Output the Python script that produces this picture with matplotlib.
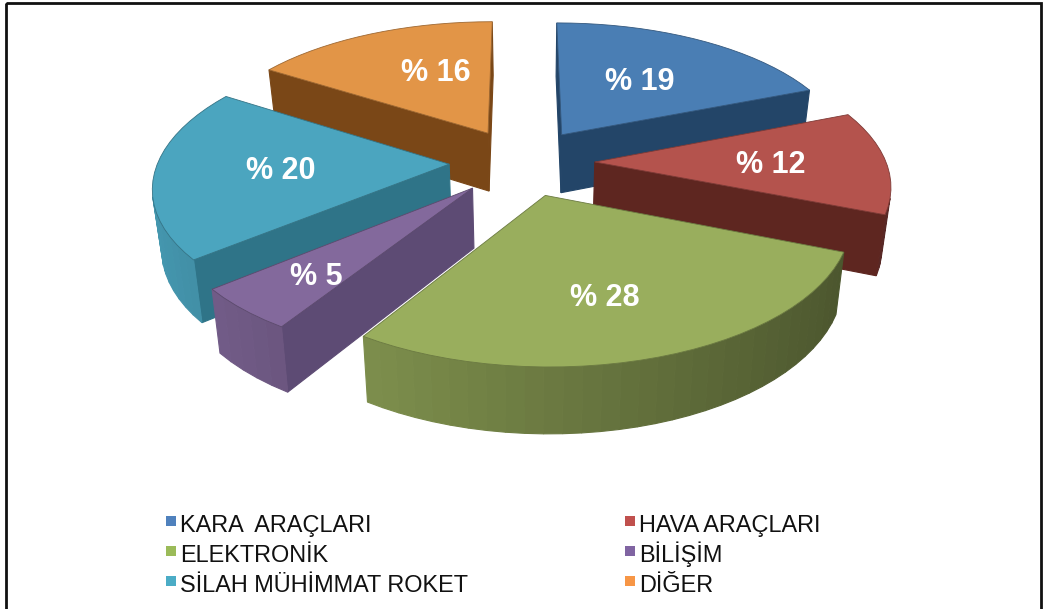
import numpy as np
import matplotlib.pyplot as plt
from matplotlib.patches import Polygon, Rectangle

# data
categories = ["KARA  ARAÇLARI", "HAVA ARAÇLARI", "ELEKTRONİK", "BİLİŞİM", "SİLAH MÜHİMMAT ROKET", "DİĞER"]
values = [19, 12, 28, 5, 20, 16]
labels = ["% 19", "% 12", "% 28", "% 5", "% 20", "% 16"]

# styles
top_colors = ["#4A7EB4", "#B4534D", "#99AE5D", "#83699C", "#4BA5BF", "#E29547"]
legend_colors = ["#4F81BD", "#C0504D", "#9BBB59", "#8064A2", "#4BACC6", "#F79646"]
wall_colors = ["#234568", "#5E2620", "#4E5F2C", "#5D4B74", "#2F7488", "#7A4717"]
label_xy = [(640, 82), (771, 165), (605, 298), (316, 277), (281, 171), (436, 73)]
legend_xy = [(171, 521), (630, 521), (171, 551), (630, 551), (171, 581), (630, 581)]
draw_order = [5, 0, 4, 1, 3, 2]  # back to front

plt.rcParams["font.family"] = ["Liberation Sans", "DejaVu Sans"]

# projection settings, all in pixels of the picture
CX, CY = 522, 162
AX, AY = 298.5, 139
EXPLODE = 0.25
HEIGHT = 62
VANISH_X = 530


def project(x, y, bottom=False):
    s = 1 / (1.025 + 0.15 * y)
    px = CX + AX * x * s
    py = CY - AY * y * s
    if bottom:
        s2 = s * 0.975
        px = VANISH_X + (px - VANISH_X) * 0.975
        py = CY - AY * y * s2 + HEIGHT * s2
    return px, py


def shade(color, f):
    rgb = np.array(plt.matplotlib.colors.to_rgb(color))
    return tuple(np.clip(rgb * f, 0, 1))


fig = plt.figure(figsize=(10.44, 6.09), dpi=100)
ax = fig.add_axes([0, 0, 1, 1])
ax.set_xlim(0, 1044)
ax.set_ylim(609, 0)
ax.axis("off")

# slice angles go clockwise from the top
edges = 90 - np.cumsum([0] + values) * 360 / sum(values)

for i in draw_order:
    t1, t2 = edges[i], edges[i + 1]
    mid = np.radians((t1 + t2) / 2)
    ox, oy = EXPLODE * np.cos(mid), EXPLODE * np.sin(mid)
    th = np.radians(np.linspace(t1, t2, max(int((t1 - t2) / 3), 6)))
    loop_x = np.r_[ox, ox + np.cos(th), ox]
    loop_y = np.r_[oy, oy + np.sin(th), oy]

    for j in range(len(loop_x) - 1):
        a = project(loop_x[j], loop_y[j])
        b = project(loop_x[j + 1], loop_y[j + 1])
        c = project(loop_x[j + 1], loop_y[j + 1], bottom=True)
        d = project(loop_x[j], loop_y[j], bottom=True)
        pts = np.array([a, b, c, d])
        area = 0.5 * np.sum(pts[:, 0] * np.roll(pts[:, 1], -1) - np.roll(pts[:, 0], -1) * pts[:, 1])
        if area >= 0:
            continue  # faces away from us
        if j == 0 or j == len(loop_x) - 2:
            color = wall_colors[i]
        else:
            f = 0.70 - 0.22 * np.cos((th[j - 1] + th[j]) / 2)
            color = shade(top_colors[i], f)
        ax.add_patch(Polygon(pts, closed=True, facecolor=color, edgecolor=color, lw=0.8))

    top = np.array(project(loop_x[:-1], loop_y[:-1])).T
    ax.add_patch(Polygon(top, closed=True, facecolor=top_colors[i],
                         edgecolor=shade(top_colors[i], 0.7), lw=0.6))

for (x, y), text in zip(label_xy, labels):
    ax.text(x, y, text, color="white", fontsize=22, fontweight="bold", ha="center", va="center")

# frame, its lower edge is cut off by the picture
ax.add_patch(Rectangle((5.5, 3), 1035.5, 640, fill=False, edgecolor="#111111", lw=2))

# legend, rows drawn by hand so the two columns stay level
for (x, y), name, color in zip(legend_xy, categories, legend_colors):
    ax.scatter([x], [y], marker="s", s=42, color=color, linewidths=0)
    ax.text(x + 9, y + 11, name, fontsize=16.9, color="#111111", ha="left", va="baseline")

fig.savefig("out.png", dpi=100)
